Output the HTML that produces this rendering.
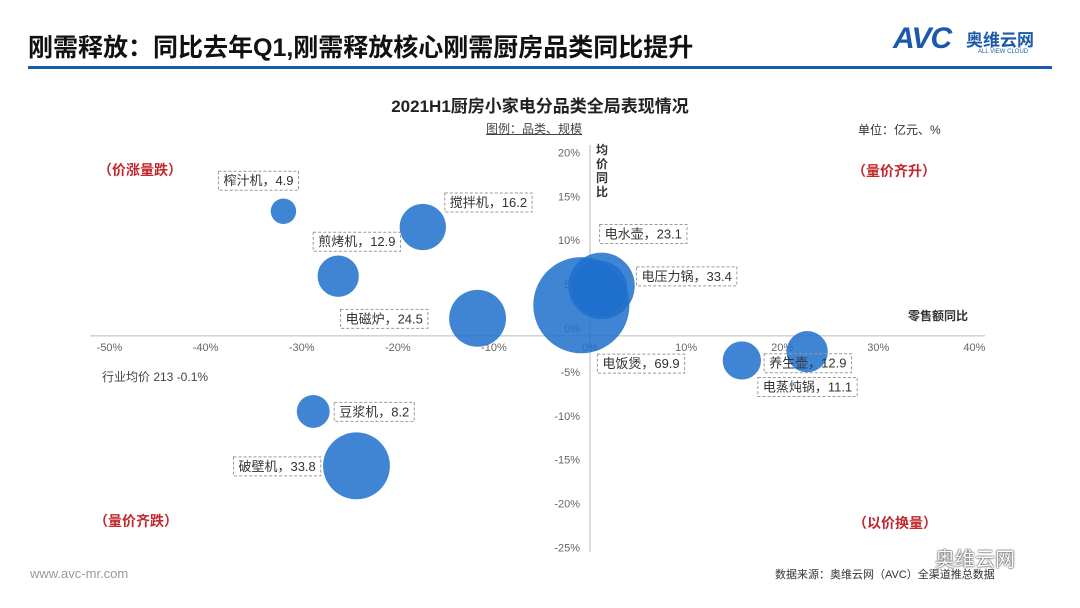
<!DOCTYPE html>
<html><head><meta charset="utf-8">
<style>
body{margin:0;width:1080px;height:608px;background:#fff;overflow:hidden;font-family:"Liberation Sans","Noto Sans CJK SC",sans-serif;position:relative}
.abs{position:absolute;white-space:nowrap}
</style></head><body>
<div class="abs" style="left:28px;top:28px;font-size:25px;font-weight:bold;color:#111">刚需释放：同比去年Q1,刚需释放核心刚需厨房品类同比提升</div>
<div class="abs" style="left:893px;top:22px;font-size:30px;font-weight:bold;color:#1a5aa8;font-style:italic;letter-spacing:-1px">AVC</div>
<div class="abs" style="left:966px;top:26px;font-size:17px;font-weight:bold;color:#1a5aa8">奥维云网</div>
<div class="abs" style="left:978px;top:49px;font-size:6px;color:#1a5aa8">ALL VIEW CLOUD</div>
<div class="abs" style="left:28px;top:66px;width:1024px;height:3px;background:#1a5aa8"></div>
<div class="abs" style="left:360px;top:92px;width:360px;text-align:center;font-size:17px;font-weight:bold;color:#222">2021H1厨房小家电分品类全局表现情况</div>
<div class="abs" style="left:486px;top:120px;font-size:12px;color:#444;text-decoration:underline">图例：品类、规模</div>
<div class="abs" style="left:858px;top:121px;font-size:12px;color:#333">单位：亿元、%</div>
<svg id="chart" width="1080" height="608" style="position:absolute;left:0;top:0"></svg>
<div class="abs" style="left:98px;top:160px;font-size:14px;font-weight:bold;color:#c0282d">（价涨量跌）</div>
<div class="abs" style="left:852px;top:161px;font-size:14px;font-weight:bold;color:#c0282d">（量价齐升）</div>
<div class="abs" style="left:94px;top:511px;font-size:14px;font-weight:bold;color:#c0282d">（量价齐跌）</div>
<div class="abs" style="left:853px;top:513px;font-size:14px;font-weight:bold;color:#c0282d">（以价换量）</div>
<div class="abs" style="left:596px;top:143px;width:14px;font-size:12px;font-weight:bold;color:#333;white-space:normal;line-height:14px">均价同比</div>
<div class="abs" style="left:908px;top:307px;font-size:12px;font-weight:bold;color:#333">零售额同比</div>
<div class="abs" style="left:102px;top:368px;font-size:12px;color:#444">行业均价 213 -0.1%</div>
<div class="abs" style="left:30px;top:566px;font-size:13px;color:#999">www.avc-mr.com</div>
<div class="abs" style="left:775px;top:566px;font-size:11px;color:#333">数据来源：奥维云网（AVC）全渠道推总数据</div>
<div class="abs" style="left:935px;top:543px;font-size:20px;color:#fff;text-shadow:0 0 2px #333,0 0 1px #222">奥维云网</div>
<script>
const categories=["榨汁机","搅拌机","煎烤机","电磁炉","电饭煲","电压力锅","电水壶","养生壶","电蒸炖锅","豆浆机","破壁机"];
const salesYoY=[-31.9,-17.4,-26.2,-11.7,-0.9,1.2,1.0,22.6,15.8,-28.8,-24.3];
const priceYoY=[13.3,11.5,5.9,1.1,2.6,4.8,4.5,-2.7,-3.7,-9.5,-15.7];
const scale=[4.9,16.2,12.9,24.5,69.9,33.4,23.1,12.9,11.1,8.2,33.8];
const xTicks=[-50,-40,-30,-20,-10,0,10,20,30,40];
const yTicks=[20,15,10,5,0,-5,-10,-15,-20,-25];
const labelOff=[[-65,-40],[22,-34],[-25,-44],[-137,-9],[16,49],[35,-19],[0,-64],[-43,2],[16,17],[21,-9],[-123,-9]];
const NS="http://www.w3.org/2000/svg";
const svg=document.getElementById('chart');
const xs=v=>590+v*9.61;
const ys=v=>328-v*8.78;
const axisY=ys(-0.9);
function el(t,a){const e=document.createElementNS(NS,t);for(const k in a)e.setAttribute(k,a[k]);svg.appendChild(e);return e;}
const xl=el('line',{x1:90,x2:985,y1:axisY,y2:axisY,stroke:'#bbb','stroke-width':1});


const yl=el('line',{x1:xs(0),x2:xs(0),y1:145,y2:552,stroke:'#bbb','stroke-width':1});


xTicks.forEach(v=>{const t=el('text',{x:xs(v),y:axisY+15,'text-anchor':'middle','font-size':11,fill:'#666'});t.textContent=v+'%';

});
yTicks.forEach(v=>{const t=el('text',{x:xs(0)-10,y:ys(v)+4,'text-anchor':'end','font-size':11,fill:'#666'});t.textContent=v+'%';

});
categories.forEach((c,i)=>{
 const cx=xs(salesYoY[i]),cy=ys(priceYoY[i]),r=5.75*Math.sqrt(scale[i]);
 const b=el('circle',{cx:cx,cy:cy,r:r,fill:'rgba(30,112,205,0.85)'});
 
 
});
categories.forEach((c,i)=>{
 const cx=xs(salesYoY[i]),cy=ys(priceYoY[i]);
 const txt=c+'，'+scale[i].toFixed(1);
 const lx=cx+labelOff[i][0],ly=cy+labelOff[i][1];
 const rc=el('rect',{x:lx,y:ly,width:10,height:19,fill:'none',stroke:'#999','stroke-dasharray':'3,2','stroke-width':1});
 
 
 const t=el('text',{x:lx+5,y:ly+14,'font-size':13,fill:'#333'});t.textContent=txt;
 
 
 rc.setAttribute('width',t.getComputedTextLength()+10);
});
</script>
</body></html>
